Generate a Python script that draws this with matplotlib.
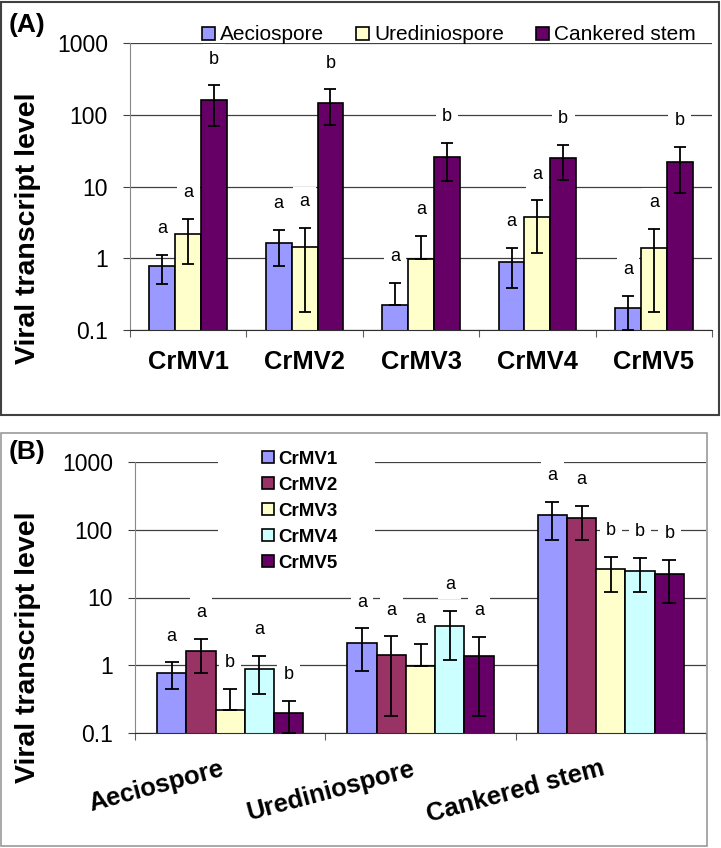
import numpy as np
import matplotlib
matplotlib.use('Agg')
import matplotlib.pyplot as plt
from matplotlib.patches import Rectangle

plt.rcParams['font.family'] = ['Liberation Sans', 'DejaVu Sans']

viruses = ['CrMV1', 'CrMV2', 'CrMV3', 'CrMV4', 'CrMV5']
tissues = ['Aeciospore', 'Urediniospore', 'Cankered stem']

# mean transcript level [tissue][virus] and error (+/-)
aecio = [0.77, 1.62, 0.22, 0.88, 0.20]
aecio_err = [0.33, 0.85, 0.23, 0.50, 0.10]
uredo = [2.16, 1.42, 0.98, 3.8, 1.38]
uredo_err = [1.33, 1.24, 1.05, 2.6, 1.2]
canker = [163, 148, 26, 25, 22]
canker_err = [93, 77, 14, 12.8, 13.8]

# significance letters
letters_a = [['a', 'a', 'a', 'a', 'a'],   # Aeciospore per virus
             ['a', 'a', 'a', 'a', 'a'],   # Urediniospore
             ['b', 'b', 'b', 'b', 'b']]   # Cankered stem
letters_b = [['a', 'a', 'a'],             # CrMV1 per tissue
             ['a', 'a', 'a'],
             ['b', 'a', 'b'],
             ['a', 'a', 'b'],
             ['b', 'a', 'b']]

tissue_colors = ['#9999FF', '#FFFFCC', '#660066']
virus_colors = ['#9999FF', '#993366', '#FFFFCC', '#CCFFFF', '#660066']

ytick_vals = [0.1, 1, 10, 100, 1000]
ytick_labels = ['0.1', '1', '10', '100', '1000']

vals = np.array([aecio, uredo, canker])
errs = np.array([aecio_err, uredo_err, canker_err])
# lower whisker is dropped when it would go below zero (log axis)
errs_lo = np.where(vals - errs > 0, errs, 0)

fig = plt.figure(figsize=(7.21, 8.48), dpi=100)
W, H = 721, 848


def fx(px):
    return px / W


def fy(py):
    return 1 - py / H


def style_axis(ax, ncat):
    ax.set_yscale('log')
    ax.set_ylim(0.1, 1000)
    ax.set_xlim(-0.5, ncat - 0.5)
    ax.set_yticks(ytick_vals)
    ax.set_yticklabels(ytick_labels)
    ax.yaxis.set_minor_locator(matplotlib.ticker.NullLocator())
    ax.tick_params(axis='y', which='major', length=5, color='#404040',
                   labelsize=16.5, pad=11)
    ax.yaxis.grid(True, color='#404040', lw=0.9)
    ax.set_axisbelow(True)
    ax.spines['top'].set_visible(False)
    ax.spines['right'].set_visible(False)
    ax.spines['left'].set_color('#888888')
    ax.spines['bottom'].set_color('#303030')
    ax.set_xticks(np.arange(ncat + 1) - 0.5)
    ax.set_xticklabels([])
    ax.tick_params(axis='x', which='major', length=5, color='#606060')


def letter(ax, x, y, s):
    ax.annotate(s, xy=(x, y), xytext=(0, 19), textcoords='offset points',
                ha='center', va='center', fontsize=13, zorder=1.5,
                bbox=dict(boxstyle='square,pad=0.35', fc='white', ec='none'))


# ---------- panel A ----------
axA = fig.add_axes([fx(130), fy(330), fx(712) - fx(130), fy(43) - fy(330)])
style_axis(axA, 5)
wA = 1 / 4.5
xA = np.arange(5)
for i in range(3):
    pos = xA + (i - 1) * wA
    axA.bar(pos, vals[i], wA, color=tissue_colors[i], edgecolor='black',
            lw=1.2, label=tissues[i], zorder=2)
    axA.errorbar(pos, vals[i], yerr=[errs_lo[i], errs[i]], fmt='none',
                 ecolor='black', elinewidth=1.3, capsize=4.5, capthick=1.3,
                 zorder=3)
    for j in range(5):
        letter(axA, pos[j], vals[i][j] + errs[i][j], letters_a[i][j])
for j, name in enumerate(viruses):
    axA.annotate(name, xy=(j, 0), xycoords=('data', 'axes fraction'),
                 xytext=(0, -23), textcoords='offset points', ha='center',
                 va='center', fontsize=18.4, fontweight='bold')
fig.legend(*axA.get_legend_handles_labels(), loc='center',
           bbox_to_anchor=(fx(449), fy(35)), ncol=3, frameon=False,
           fontsize=15, handlelength=0.6, handleheight=0.6,
           handletextpad=0.25, columnspacing=1.55, borderaxespad=0)
fig.text(fx(28), fy(228), 'Viral transcript level', rotation=90,
         ha='center', va='center', fontsize=20.5, fontweight='bold')
fig.text(fx(27), fy(25), '(A)', ha='center', va='center', fontsize=19,
         fontweight='bold')

# ---------- panel B ----------
axB = fig.add_axes([fx(135), fy(733), fx(706) - fx(135), fy(462) - fy(733)])
style_axis(axB, 3)
wB = 1 / 6.5
xB = np.arange(3)
for k in range(5):
    pos = xB + (k - 2) * wB
    axB.bar(pos, vals[:, k], wB, color=virus_colors[k], edgecolor='black',
            lw=1.2, label=viruses[k], zorder=2)
    axB.errorbar(pos, vals[:, k], yerr=[errs_lo[:, k], errs[:, k]],
                 fmt='none', ecolor='black', elinewidth=1.3, capsize=5,
                 capthick=1.3, zorder=3)
    for j in range(3):
        letter(axB, pos[j], vals[j][k] + errs[j][k], letters_b[k][j])
for j, name in enumerate(tissues):
    axB.annotate(name, xy=(j, 0), xycoords=('data', 'axes fraction'),
                 xytext=(-7, -17), textcoords='offset points', ha='right',
                 va='top', rotation=15, rotation_mode='anchor',
                 fontsize=18.4, fontweight='bold')
# white area behind the legend hides the gridlines there
axB.add_patch(Rectangle((fx(218), fy(572)), fx(375) - fx(218),
                        fy(446) - fy(572), transform=fig.transFigure,
                        fc='white', ec='none', zorder=1))
axB.legend(loc='center', bbox_to_anchor=(fx(300), fy(511)),
           bbox_transform=fig.transFigure, frameon=False,
           handlelength=0.6, handleheight=0.65, handletextpad=0.25,
           labelspacing=0.48, borderpad=0.3,
           prop={'weight': 'bold', 'size': 13.5})
fig.text(fx(28), fy(647), 'Viral transcript level', rotation=90,
         ha='center', va='center', fontsize=20.5, fontweight='bold')
fig.text(fx(27), fy(452), '(B)', ha='center', va='center', fontsize=19,
         fontweight='bold')

# panel borders
fig.patches.append(Rectangle((fx(1), fy(415)), fx(718), fy(2) - fy(415),
                             transform=fig.transFigure, fill=False,
                             ec='#404040', lw=1.5))
fig.patches.append(Rectangle((fx(1), fy(846)), fx(706), fy(433) - fy(846),
                             transform=fig.transFigure, fill=False,
                             ec='#999999', lw=1.2))

fig.savefig('out.png', dpi=100)
